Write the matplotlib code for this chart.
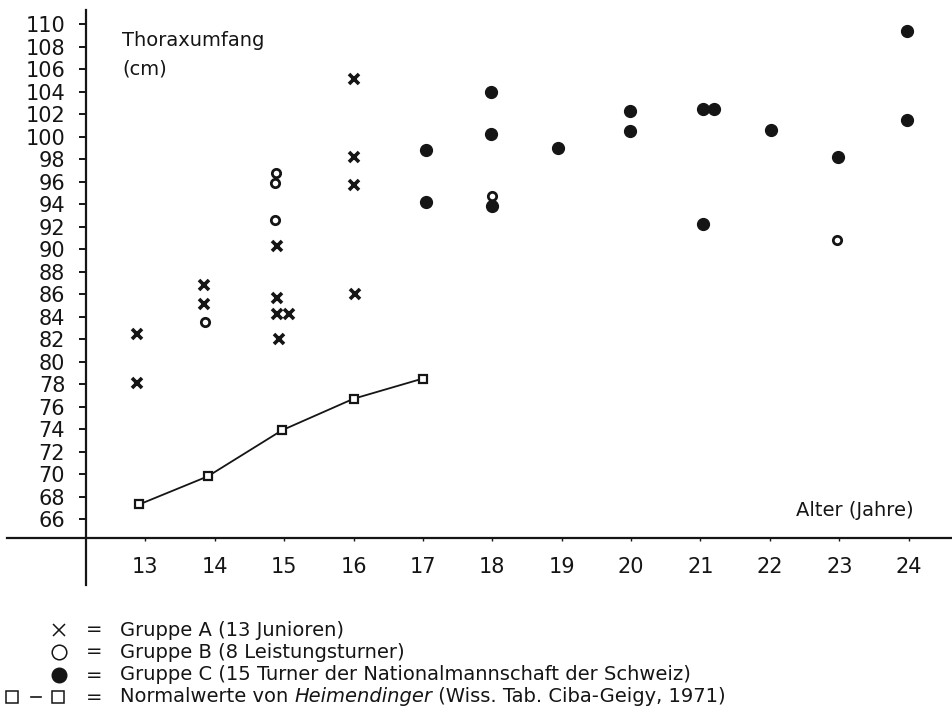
import matplotlib.pyplot as plt
from matplotlib.lines import Line2D

plt.rcParams['font.family'] = ['DejaVu Sans']
ink = '#151515'

# Gruppe A (13 Junioren): Alter in Jahren, Thoraxumfang in cm
alter_a = [12.88, 12.88, 13.85, 13.85, 14.9, 14.9, 14.9, 15.07, 14.92, 16.0, 16.0, 16.0, 16.02]
thorax_a = [82.5, 78.1, 86.8, 85.1, 90.3, 85.7, 84.2, 84.2, 82.0, 105.1, 98.2, 95.7, 86.0]

# Gruppe B (Leistungsturner)
alter_b = [13.86, 14.88, 14.87, 14.87, 18.0, 22.97]
thorax_b = [83.5, 96.8, 95.9, 92.6, 94.7, 90.8]

# Gruppe C (Nationalmannschaft)
alter_c = [17.04, 17.05, 17.98, 17.98, 18.0, 18.94, 19.98, 19.98,
           21.04, 21.19, 21.04, 22.01, 22.98, 23.98, 23.98]
thorax_c = [98.8, 94.2, 104.0, 100.2, 93.8, 99.0, 102.3, 100.5,
            102.5, 102.5, 92.2, 100.6, 98.2, 109.4, 101.5]

# Normalwerte nach Heimendinger
alter_n = [12.91, 13.9, 14.97, 16.0, 17.0]
thorax_n = [67.3, 69.8, 73.9, 76.7, 78.5]

x_ticks = list(range(13, 25))
y_ticks = list(range(66, 111, 2))

W, H = 952, 715
fig = plt.figure(figsize=(W / 100, H / 100), dpi=100)
ax = fig.add_axes([7 / W, 130 / H, 945 / W, 575 / H])
ax.set_xlim(11.007, 24.624)
ax.set_ylim(60.14, 111.27)

for side in ['top', 'right']:
    ax.spines[side].set_visible(False)
ax.spines['left'].set_position(('data', 12.145))
ax.spines['bottom'].set_position(('data', 64.34))
for side in ['left', 'bottom']:
    ax.spines[side].set_linewidth(1.6)
    ax.spines[side].set_color(ink)

ax.set_xticks(x_ticks)
ax.set_yticks(y_ticks)
ax.tick_params(axis='y', direction='out', length=5, width=1.4, pad=10,
               labelsize=15, color=ink, labelcolor=ink)
ax.tick_params(axis='x', direction='out', length=2, width=1, pad=12,
               labelsize=15, color=ink, labelcolor=ink)

ax.plot(alter_n, thorax_n, 's-', ms=6, mfc='white', mec=ink, mew=1.6,
        lw=1.3, color=ink)
ax.plot(alter_a, thorax_a, 'x', ms=7.5, mew=2.6, color=ink)
ax.plot(alter_b, thorax_b, 'o', ms=6, mfc='white', mec=ink, mew=2)
ax.plot(alter_c, thorax_c, 'o', ms=8.5, color=ink)

ax.text(12.664, 108.6, 'Thoraxumfang', fontsize=14, color=ink, va='center')
ax.text(12.664, 106.0, '(cm)', fontsize=14, color=ink, va='center')
ax.text(24.076, 66.8, 'Alter (Jahre)', fontsize=14, color=ink,
        va='center', ha='right')

# Zeichenerklärung unter dem Diagramm
def px(x, y):
    return x / W, 1 - y / H

rows = [630, 652, 675, 697]
labels = ['Gruppe A (13 Junioren)',
          'Gruppe B (8 Leistungsturner)',
          'Gruppe C (15 Turner der Nationalmannschaft der Schweiz)']
legend_fs = 14

sym = dict(transform=fig.transFigure, color=ink, linestyle='none')
fig.add_artist(Line2D(*zip(px(59, rows[0])), marker='x', ms=8, mew=1.1, **sym))
fig.add_artist(Line2D(*zip(px(59, rows[1])), marker='o', ms=10.5, mew=1.1,
                      mfc='white', **sym))
fig.add_artist(Line2D(*zip(px(59, rows[2])), marker='o', ms=10.5, **sym))
for xs in (11.5, 57.5):
    fig.add_artist(Line2D(*zip(px(xs, rows[3])), marker='s', ms=9, mew=1.1,
                          mfc='white', **sym))
x0, y0 = px(31, rows[3])
x1, _ = px(41, rows[3])
fig.add_artist(Line2D([x0, x1], [y0, y0], transform=fig.transFigure,
                      color=ink, lw=1.2))

for yp in rows:
    fig.text(*px(94, yp), '=', fontsize=legend_fs, color=ink,
             ha='center', va='center')
for yp, lab in zip(rows, labels):
    fig.text(*px(120, yp), lab, fontsize=legend_fs, color=ink, va='center')

# letzte Zeile mit kursivem Autorennamen
t1 = fig.text(*px(120, rows[3]), 'Normalwerte von ', fontsize=legend_fs,
              color=ink, va='center')
t2 = ax.annotate('Heimendinger', xy=(1, 0), xycoords=t1, va='bottom',
                 fontsize=legend_fs, color=ink, style='italic',
                 annotation_clip=False)
ax.annotate(' (Wiss. Tab. Ciba-Geigy, 1971)', xy=(1, 0), xycoords=t2,
            va='bottom', fontsize=legend_fs, color=ink, annotation_clip=False)

fig.savefig('out.png', dpi=100, facecolor='white')
